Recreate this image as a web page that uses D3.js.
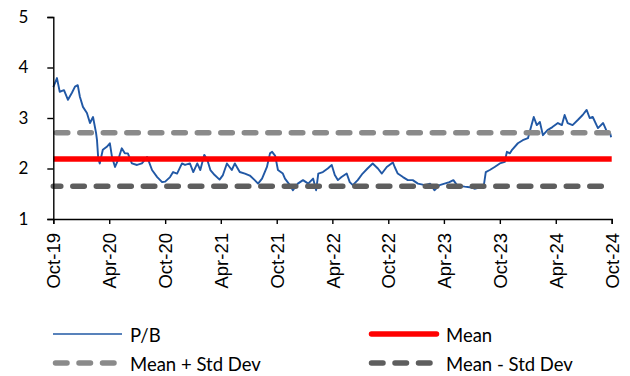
<!DOCTYPE html>
<html>
<head>
<meta charset="utf-8">
<script src="https://cdn.jsdelivr.net/npm/d3@7"></script>
<style>
  html, body { margin: 0; padding: 0; background: #fff; }
  svg { display: block; }
</style>
</head>
<body>
<svg id="chart" width="630" height="376"></svg>
<script>
// P/B readings (date, value)
const pbDates = [
  "2019-10-01","2019-10-13","2019-10-22","2019-11-05","2019-11-18","2019-12-01","2019-12-11","2019-12-20",
  "2019-12-27","2020-01-06","2020-01-19","2020-01-29","2020-02-08","2020-02-18","2020-02-21","2020-02-25",
  "2020-03-01","2020-03-11","2020-03-24","2020-04-03","2020-04-10","2020-04-20","2020-04-30","2020-05-12",
  "2020-05-22","2020-06-01","2020-06-14","2020-07-01","2020-07-17","2020-08-03","2020-08-19","2020-09-05",
  "2020-09-21","2020-10-01","2020-10-17","2020-10-27","2020-11-09","2020-11-25","2020-12-05","2020-12-21",
  "2021-01-01","2021-01-14","2021-01-24","2021-02-06","2021-02-16","2021-02-26","2021-03-12","2021-03-28",
  "2021-04-08","2021-04-21","2021-05-07","2021-05-17","2021-06-02","2021-06-19","2021-07-05","2021-07-21",
  "2021-08-01","2021-08-14","2021-08-30","2021-09-09","2021-09-16","2021-09-26","2021-10-05","2021-10-21",
  "2021-10-28","2021-11-13","2021-11-23","2021-12-09","2021-12-26","2022-01-12","2022-01-28","2022-02-07",
  "2022-02-14","2022-03-01","2022-03-17","2022-03-30","2022-04-09","2022-04-19","2022-05-01","2022-05-18",
  "2022-05-28","2022-06-07","2022-06-23","2022-07-09","2022-07-25","2022-08-11","2022-08-28","2022-09-10",
  "2022-09-26","2022-10-16","2022-10-22","2022-11-01","2022-11-18","2022-12-04","2022-12-20","2023-01-06",
  "2023-01-29","2023-02-15","2023-03-01","2023-03-18","2023-04-03","2023-04-19","2023-05-02","2023-05-15",
  "2023-06-08","2023-06-24","2023-07-10","2023-07-26","2023-08-09","2023-08-16","2023-08-29","2023-09-14",
  "2023-10-01","2023-10-17","2023-10-24","2023-11-03","2023-11-10","2023-11-29","2023-12-15","2024-01-01",
  "2024-01-11","2024-01-20","2024-01-30","2024-02-09","2024-02-19","2024-03-05","2024-03-21","2024-04-08",
  "2024-04-21","2024-04-30","2024-05-10","2024-05-26","2024-06-12","2024-06-28","2024-07-11","2024-07-21",
  "2024-07-31","2024-08-17","2024-09-03","2024-09-16","2024-09-26","2024-09-29"
];
const pbValues = [
  3.61,3.79,3.52,3.55,3.36,3.50,3.62,3.65,
  3.42,3.22,3.10,2.90,3.02,2.70,2.56,2.20,
  2.10,2.37,2.43,2.50,2.23,2.03,2.17,2.40,
  2.30,2.30,2.10,2.07,2.10,2.23,1.97,1.83,
  1.73,1.74,1.83,1.93,1.90,2.10,2.07,2.10,
  1.93,2.10,1.97,2.27,2.17,1.97,1.87,1.78,
  1.87,2.10,1.97,2.10,1.93,1.90,1.86,1.77,
  1.70,1.80,2.03,2.30,2.33,2.25,1.97,1.90,
  1.80,1.67,1.57,1.70,1.77,1.70,1.80,1.57,
  1.90,1.93,2.00,2.07,1.87,1.77,1.83,1.90,
  1.73,1.67,1.77,1.90,2.00,2.10,2.00,1.90,
  2.03,2.12,2.03,1.90,1.83,1.77,1.77,1.70,
  1.67,1.70,1.57,1.67,1.70,1.73,1.77,1.66,
  1.64,1.63,1.60,1.62,1.64,1.93,1.97,2.03,
  2.10,2.13,2.33,2.30,2.37,2.50,2.56,2.60,
  2.82,3.02,2.86,2.92,2.66,2.76,2.82,2.90,
  2.86,3.06,2.90,2.86,2.96,3.06,3.16,3.00,
  3.02,2.80,2.90,2.72,2.70,2.62
];

const meanValue = 2.19;
const upperValue = 2.71;
const lowerValue = 1.65;

const yTicks = [1, 2, 3, 4, 5];
const xTickDates = ["2019-10-01","2020-04-01","2020-10-01","2021-04-01","2021-10-01","2022-04-01",
  "2022-10-01","2023-04-01","2023-10-01","2024-04-01","2024-10-01"];

const legendItems = [
  { label: "P/B", key: "pb" },
  { label: "Mean", key: "mean" },
  { label: "Mean + Std Dev", key: "upper" },
  { label: "Mean - Std Dev", key: "lower" }
];

const parse = d3.timeParse("%Y-%m-%d");
const pb = pbDates.map((d, i) => ({ date: parse(d), value: pbValues[i] }));

const svg = d3.select("#chart");
const plotLeft = 53.3, plotRight = 611.7, plotTop = 17, plotBottom = 219;

const x = d3.scaleTime()
  .domain([parse("2019-10-01"), parse("2024-10-01")])
  .range([plotLeft, plotRight]);

const y = d3.scaleLinear()
  .domain([1, 5])
  .range([plotBottom, plotTop]);

const styles = {
  pb: { stroke: "#2158a5", width: 1.9, dash: null, cap: "butt" },
  mean: { stroke: "#ff0000", width: 5.5, dash: null, cap: "butt" },
  upper: { stroke: "#8a8a8a", width: 5.5, dash: "11.5 12", cap: "round" },
  lower: { stroke: "#5e5e5e", width: 5.5, dash: "11.5 12", cap: "round" }
};

const line = d3.line().x(d => x(d.date)).y(d => y(d.value));

svg.append("path")
  .datum(pb)
  .attr("fill", "none")
  .attr("stroke", styles.pb.stroke)
  .attr("stroke-width", styles.pb.width)
  .attr("stroke-linejoin", "round")
  .attr("d", line);

const span = [pb[0].date, parse("2024-10-01")];
[["upper", upperValue, -3], ["lower", lowerValue, 4], ["mean", meanValue, 0]].forEach(([key, v, off]) => {
  const s = styles[key];
  svg.append("path")
    .datum(span.map(d => ({ date: d, value: v })))
    .attr("fill", "none")
    .attr("stroke", s.stroke)
    .attr("stroke-width", s.width)
    .attr("stroke-dasharray", s.dash)
    .attr("stroke-dashoffset", off)
    .attr("stroke-linecap", s.cap)
    .attr("d", line);
});

// axes
const yAxis = svg.append("g")
  .attr("transform", `translate(${plotLeft},0)`)
  .call(d3.axisLeft(y).tickValues(yTicks).tickSize(6).tickPadding(19).tickFormat(d3.format("d")));
yAxis.select(".domain").attr("stroke", "#000").attr("stroke-width", 1.4);
yAxis.selectAll(".tick line").attr("stroke", "#000").attr("stroke-width", 1.4);
yAxis.selectAll("text")
  .style("font-family", "Lato, 'Noto Sans', sans-serif")
  .style("font-size", "17px")
  .attr("fill", "#000");

const xAxis = svg.append("g")
  .attr("transform", `translate(0,${plotBottom})`)
  .call(d3.axisBottom(x).tickValues(xTickDates.map(parse)).tickSize(5).tickFormat(d3.timeFormat("%b-%y")));
xAxis.select(".domain").attr("stroke", "#000").attr("stroke-width", 1.4);
xAxis.selectAll(".tick line").attr("stroke", "#000").attr("stroke-width", 1.4);
xAxis.selectAll("text")
  .style("font-family", "'Liberation Sans', Arial, sans-serif")
  .style("font-size", "18.5px")
  .attr("fill", "#000")
  .attr("transform", "rotate(-90)")
  .attr("text-anchor", "end")
  .attr("x", -14)
  .attr("y", 0)
  .attr("dy", "0.36em");

// legend
const legendPos = {
  pb: { x: 53, y: 334 },
  mean: { x: 369, y: 334 },
  upper: { x: 53, y: 363 },
  lower: { x: 369, y: 363 }
};
const legend = svg.append("g");
legendItems.forEach(item => {
  const p = legendPos[item.key];
  const s = styles[item.key];
  const g = legend.append("g").attr("transform", `translate(${p.x},${p.y})`);
  if (item.key === "pb") {
    g.append("line").attr("x1", 0).attr("x2", 69).attr("stroke", s.stroke).attr("stroke-width", 1.6);
  } else if (item.key === "mean") {
    g.append("line").attr("x1", 2.5).attr("x2", 67.5).attr("stroke", s.stroke)
      .attr("stroke-width", 5.5).attr("stroke-linecap", "round");
  } else {
    g.append("line").attr("x1", 2.5).attr("x2", 62).attr("stroke", s.stroke)
      .attr("stroke-width", 5.5).attr("stroke-linecap", "round")
      .attr("stroke-dasharray", "11.5 12");
  }
  g.append("text")
    .attr("x", 77)
    .attr("y", 8)
    .style("font-family", "Lato, 'Noto Sans', sans-serif")
    .style("font-size", "18.5px")
    .attr("fill", "#000")
    .text(item.label);
});
</script>
</body>
</html>
